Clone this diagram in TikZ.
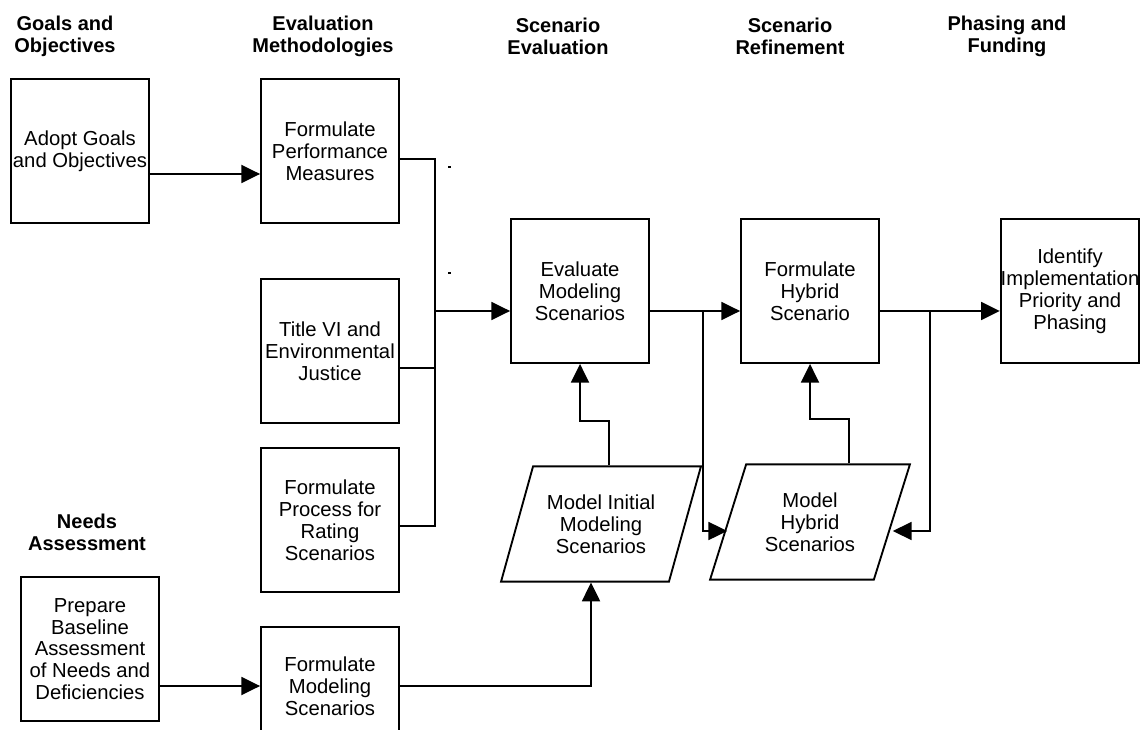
\documentclass[tikz,border=0pt]{standalone}
\usepackage{fontspec}
\setmainfont{Liberation Sans}
\usetikzlibrary{arrows.meta,shapes.geometric}

\begin{document}
\begin{tikzpicture}[x=0.75pt,y=-0.75pt,line width=1.4pt,
  box/.style={draw,minimum width=103.5pt,minimum height=108pt,inner sep=0pt,align=center,
    font=\fontsize{15.2}{16.4}\selectfont},
  para/.style={draw,trapezium,trapezium left angle=66.5,trapezium right angle=113.5,
    trapezium stretches=true,minimum width=150pt,minimum height=86.5pt,inner sep=0pt,align=center,
    font=\fontsize{15.2}{16.4}\selectfont},
  hdr/.style={align=center,font=\bfseries\fontsize{15}{16.5}\selectfont},
  arr/.style={-{Triangle[length=14pt,width=13.5pt]}}]

\useasboundingbox (0,0) rectangle (1141,730);
\clip (0,0) rectangle (1141,730);

% column headings
\node[hdr] (hgoal) at (65,36) {Goals and\\Objectives};
\node[hdr] (heval) at (323,36) {Evaluation\\Methodologies};
\node[hdr] (hscen) at (558,36) {Scenario\\Evaluation};
\node[hdr] (hrefine) at (790,36) {Scenario\\Refinement};
\node[hdr] (hphase) at (1007,36) {Phasing and\\Funding};
\node[hdr] (hneed) at (87,532) {Needs\\Assessment};

% boxes
\node[box] (goals) at (80,151) {Adopt Goals\\and Objectives};
\node[box] (perf) at (330,151) {Formulate\\Performance\\Measures};
\node[box] (title) at (330,351) {Title VI and\\Environmental\\Justice};
\node[box] (rate) at (330,520) {Formulate\\Process for\\Rating\\Scenarios};
\node[box] (prep) at (90,649) {Prepare\\Baseline\\Assessment\\of Needs and\\Deficiencies};
\node[box,minimum height=88.5pt] (fmod) at (330,686) {Formulate\\Modeling\\Scenarios};
\node[box] (evalb) at (580,291) {Evaluate\\Modeling\\Scenarios};
\node[box] (hyb) at (810,291) {Formulate\\Hybrid\\Scenario};
\node[box] (ident) at (1070,291) {Identify\\Implementation\\Priority and\\Phasing};
\node[para] (minit) at (601,524) {Model Initial\\Modeling\\Scenarios};
\node[para] (mhyb) at (810,522) {Model\\Hybrid\\Scenarios};

% helper points
\coordinate (row) at (0,311);
\coordinate (hrow) at (0,531);
\coordinate (b1) at (435,159);
\coordinate (b2) at (435,368);
\coordinate (b3) at (435,526);
\coordinate (j1) at (703,311);
\coordinate (j2) at (930,311);
\coordinate (k1) at (609,421);
\coordinate (k2) at (849,419);
\coordinate (k3) at (591,686);

% connectors
\draw[arr] (goals.east |- 0,174) -- (perf.west |- 0,174);
\draw (perf.east |- b1) -- (b1) -- (b3) -- (rate.east |- b3);
\draw (title.east |- b2) -- (b2);
\draw[arr] (b1 |- row) -- (evalb.west |- row);
\draw[arr] (evalb.east |- row) -- (hyb.west |- row);
\draw[arr] (hyb.east |- row) -- (ident.west |- row);
\draw[arr] (j1) |- (mhyb.west |- hrow);
\draw[arr] (j2) |- (mhyb.east |- hrow);
\draw[arr] (minit.north -| k1) -- (k1) -| (evalb.south);
\draw[arr] (mhyb.north -| k2) -- (k2) -| (hyb.south);
\draw[arr] (prep.east |- fmod.west) -- (fmod.west);
\draw[arr] (fmod.east) -- (k3) -- (minit.south -| k3);

% stray ticks
\draw[line width=1pt] (448,167) -- (451,167);
\draw[line width=1pt] (448,273) -- (451,273);

\end{tikzpicture}
\end{document}
